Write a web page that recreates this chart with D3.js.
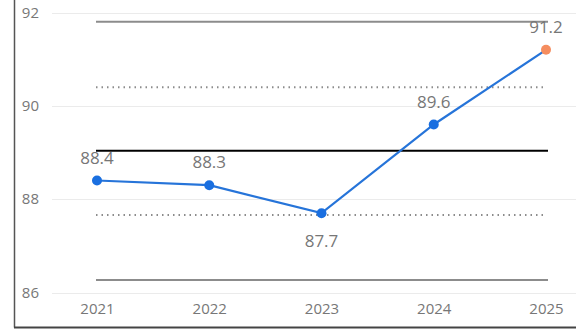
<!DOCTYPE html>
<html>
<head>
<meta charset="utf-8">
<script src="https://cdn.jsdelivr.net/npm/d3@7"></script>
<style>
  body { margin: 0; background: #fff; }
  svg { display: block; font-family: "Open Sans", "Noto Sans", sans-serif; }
</style>
</head>
<body>
<svg width="576" height="331"></svg>
<script>
var years = ['2021', '2022', '2023', '2024', '2025'];
var values = [88.4, 88.3, 87.7, 89.6, 91.2];
var yTicks = [86, 88, 90, 92];
// control lines: +2s, +1s, mean, -1s, -2s
var controlValues = [91.8, 90.4, 89.04, 87.66, 86.27];
var controlStyles = ['outer', 'inner', 'mean', 'inner', 'outer'];
var labelBelow = [false, false, true, false, false];

(function() {
    'use strict';

    var svg = d3.select('svg');

    var x = d3.scalePoint().domain(years).range([97, 546]);
    var y = d3.scaleLinear().domain([86, 92]).range([292.5, 12.5]);

    // frame
    svg.append('line')
        .attr('x1', 14.5).attr('x2', 14.5).attr('y1', 0).attr('y2', 327.5)
        .attr('stroke', '#555').attr('stroke-width', 1.5);
    svg.append('line')
        .attr('x1', 14).attr('x2', 576).attr('y1', 327.5).attr('y2', 327.5)
        .attr('stroke', '#444').attr('stroke-width', 2);

    // grid
    svg.append('g').selectAll('line')
        .data(yTicks)
        .enter()
        .append('line')
        .attr('x1', 52).attr('x2', 576)
        .attr('y1', function(d) { return Math.round(y(d)) + 0.5; })
        .attr('y2', function(d) { return Math.round(y(d)) + 0.5; })
        .attr('stroke', '#ebebeb').attr('stroke-width', 1);

    // y axis
    var yAxis = svg.append('g')
        .attr('transform', 'translate(39,0)')
        .call(d3.axisLeft(y).tickValues(yTicks).tickFormat(d3.format('d'))
            .tickSize(0).tickPadding(0));
    yAxis.select('.domain').remove();
    yAxis.attr('font-size', 15).attr('font-family', '"Open Sans", sans-serif');
    yAxis.selectAll('text').attr('fill', '#777');

    // x axis
    var xAxis = svg.append('g')
        .attr('transform', 'translate(0,303)')
        .call(d3.axisBottom(x).tickSize(0).tickPadding(0));
    xAxis.select('.domain').remove();
    xAxis.attr('font-size', 15).attr('font-family', '"Open Sans", sans-serif');
    xAxis.selectAll('text').attr('fill', '#777');

    // control lines
    svg.append('g').selectAll('line')
        .data(controlValues)
        .enter()
        .append('line')
        .attr('x1', 96)
        .attr('x2', function(d, i) { return controlStyles[i] === 'inner' ? 543 : 548; })
        .attr('y1', function(d) { return y(d); })
        .attr('y2', function(d) { return y(d); })
        .attr('stroke', function(d, i) {
            return controlStyles[i] === 'mean' ? '#000' : '#8c8c8c';
        })
        .attr('stroke-width', 2)
        .attr('stroke-dasharray', function(d, i) {
            return controlStyles[i] === 'inner' ? '1.5,4' : null;
        });

    // series line
    var line = d3.line()
        .x(function(d, i) { return x(years[i]); })
        .y(function(d) { return y(d); });
    svg.append('path')
        .datum(values)
        .attr('d', line)
        .attr('fill', 'none')
        .attr('stroke', '#2674d9')
        .attr('stroke-width', 2.2);

    // points
    svg.append('g').selectAll('circle')
        .data(values)
        .enter()
        .append('circle')
        .attr('cx', function(d, i) { return x(years[i]); })
        .attr('cy', function(d) { return y(d); })
        .attr('r', 5)
        .attr('fill', function(d, i) { return i === values.length - 1 ? '#f58d5f' : '#1a6fe0'; });

    // data labels
    svg.append('g').selectAll('text')
        .data(values)
        .enter()
        .append('text')
        .attr('x', function(d, i) { return x(years[i]); })
        .attr('y', function(d, i) { return y(d) + (labelBelow[i] ? 34 : -17); })
        .attr('text-anchor', 'middle')
        .attr('fill', '#777')
        .attr('font-size', 17)
        .text(function(d) { return d.toFixed(1); });
})();
</script>
</body>
</html>
